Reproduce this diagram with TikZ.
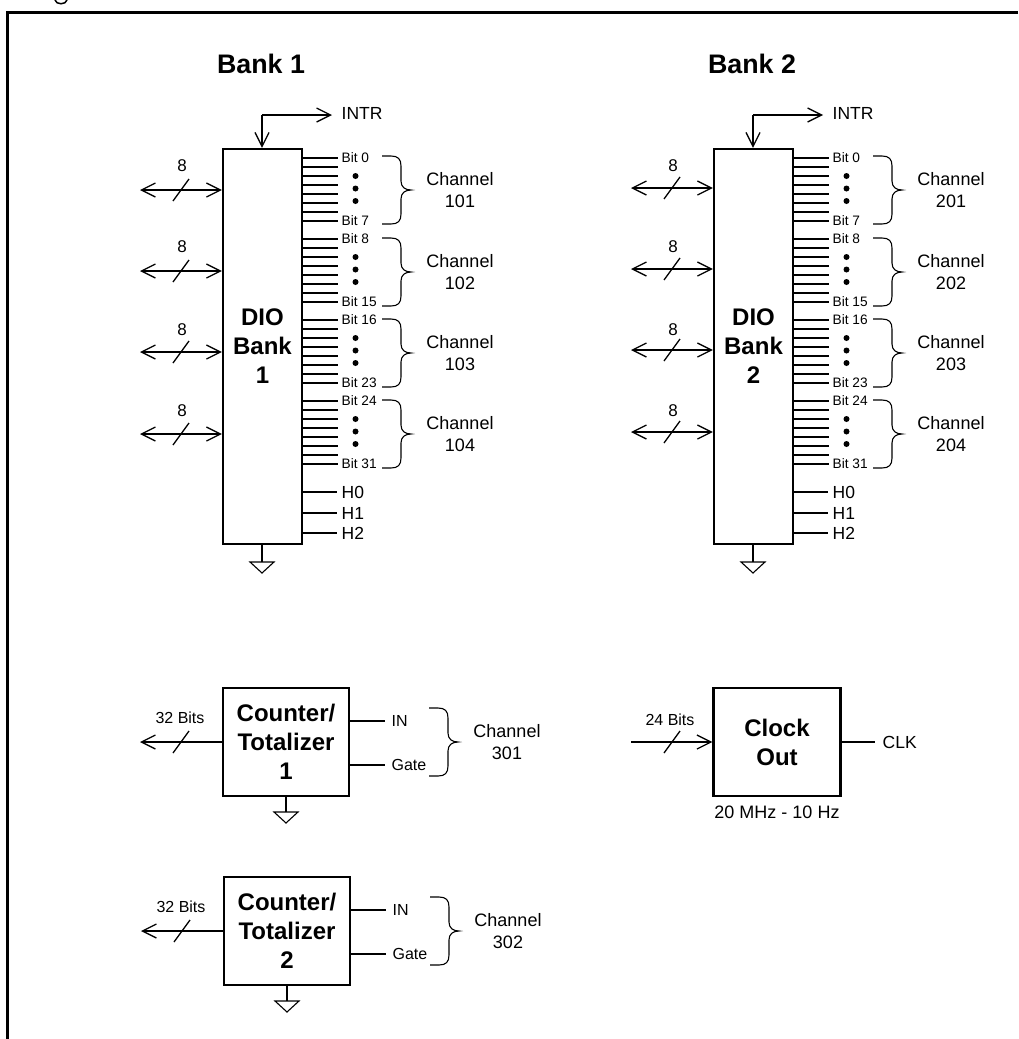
\documentclass[tikz,border=0pt]{standalone}
\usepackage{fontspec}
\setmainfont{Liberation Sans}
\usetikzlibrary{arrows.meta}
\newcommand{\fsz}[2]{\fontsize{#1}{#2}\selectfont}

\begin{document}
\begin{tikzpicture}[x=1pt, y=-1pt, line width=1.3pt, >={Straight Barb[length=14pt,width=14pt,line width=1.3pt]}]
      \tikzset{
        block/.style={draw, line width=2.2pt, inner sep=0pt, align=center, font=\fsz{24}{29}\bfseries},
        title/.style={font=\fsz{26.8}{30}\bfseries},
        bitlabel/.style={anchor=west, inner sep=0pt, font=\fsz{13.7}{15}},
        siglabel/.style={anchor=west, inner sep=0pt, font=\fsz{17.5}{20}},
        gatelabel/.style={anchor=west, inner sep=0pt, font=\fsz{16}{18}},
        buslabel/.style={inner sep=0pt, font=\fsz{16}{18}},
        chlabel/.style={inner sep=0pt, align=center, font=\fsz{18}{21.5}},
        dot/.style={circle, fill=black, inner sep=0pt, minimum size=6pt},
        busslash/.pic={\draw (-8,11) -- (8,-11);},
        gndsym/.pic={\draw[line width=1.1pt] (-12,0) -- (12,0) -- (0,11) -- cycle;},
        chbrace/.pic={\draw[line width=1.1pt] (-29,-34) -- (-20,-34) .. controls (-13,-34) and (-10,-31) .. (-10,-24)
          -- (-10,-9) .. controls (-10,-3) and (-6,0) .. (0,0) .. controls (-6,0) and (-10,3) .. (-10,9)
          -- (-10,24) .. controls (-10,31) and (-13,34) .. (-20,34) -- (-29,34);}
      }
      \useasboundingbox (0,0) rectangle (1018,1039);

      % Outer frame, running off the page
      \draw[line width=3pt] (1018,12.5) -- (7.5,12.5) -- (7.5,1039);
      \draw[line width=1.5pt] (55,0) .. controls (56,5) and (66,5) .. (67,0);

      % The two DIO banks
      \foreach \bank/\dx/\dy in {1/0/0, 2/491/-2} {
        \begin{scope}[xshift=\dx pt]
          \node[title] (title\bank) at (261,64) {Bank \bank};
          \node[block, minimum width=79pt, minimum height=395pt] (dio\bank) at (262.5,346.5) {DIO\\Bank\\\bank};

          % Interrupt output
          \coordinate (intrtop\bank) at (262,115);
          \node[siglabel] (intr\bank) at (341,113) {INTR};
          \coordinate (intrend\bank) at (332,115);
          \draw[->, line width=1.6pt] (intrtop\bank) -- (intrtop\bank |- dio\bank.north);
          \draw[->, line width=1.6pt] (intrtop\bank) -- (intrend\bank);

          % Byte wide buses on the left, bit lines and braces on the right
          \foreach \ch/\ay/\ly/\ytop/\first/\last/\cy in {1/190/166/158/0/7/190, 2/271/247/239/8/15/272, 3/352/330/320/16/23/353, 4/434/411/401/24/31/434} {
            \coordinate (busend\bank\ch) at (140,\ay+\dy);
            \coordinate (busmid\bank\ch) at (181,\ay+\dy);
            \draw[<->] (busend\bank\ch) -- (dio\bank.west |- busend\bank\ch);
            \pic at (busmid\bank\ch) {busslash};
            \node[buslabel, font=\fsz{17}{19}] (width\bank\ch) at (182,\ly) {8};

            \foreach \k in {0,...,7} {
              \coordinate (bit\bank\ch\k) at (338,\ytop+9*\k);
              \draw (dio\bank.east |- bit\bank\ch\k) -- (bit\bank\ch\k);
            }
            \node[bitlabel] (first\bank\ch) at (341,\ytop) {Bit \first};
            \node[bitlabel] (last\bank\ch) at (341,\ytop+63) {Bit \last};
            \node[dot] (dota\bank\ch) at (355.5,\ytop+18) {};
            \node[dot] (dotb\bank\ch) at (355.5,\ytop+30.5) {};
            \node[dot] (dotc\bank\ch) at (355.5,\ytop+43) {};
            \pic at (411,\cy) {chbrace};
            \node[chlabel] (chan\bank\ch) at (460,\cy) {Channel\\{\bank}0\ch};
          }

          % Handshake lines
          \foreach \h/\hy in {0/492, 1/513, 2/533} {
            \node[siglabel] (hs\bank\h) at (341,\hy) {H\h};
            \coordinate (hsend\bank\h) at (337,\hy);
            \draw (dio\bank.east |- hsend\bank\h) -- (hsend\bank\h);
          }

          % Ground
          \coordinate (gnd\bank) at (262,562);
          \draw (dio\bank.south -| gnd\bank) -- (gnd\bank);
          \pic at (gnd\bank) {gndsym};
        \end{scope}
      }

      % Counter/Totalizer blocks
      \foreach \cnt/\dx/\dy in {1/0/0, 2/1/189} {
        \begin{scope}[xshift=\dx pt, yshift=-\dy pt]
          \node[block, minimum width=126.5pt, minimum height=108pt] (cnt\cnt) at (286,742) {Counter/\\Totalizer\\\cnt};
          \coordinate (outend\cnt) at (140,742);
          \draw[->] (cnt\cnt.west) -- (outend\cnt);
          \pic at (181,742) {busslash};
          \node[buslabel] (bits\cnt) at (180,718) {32 Bits};

          \node[gatelabel] (in\cnt) at (391,721) {IN};
          \node[gatelabel] (gate\cnt) at (391,765) {Gate};
          \coordinate (inend\cnt) at (385,721);
          \coordinate (gateend\cnt) at (385,765);
          \draw (cnt\cnt.east |- inend\cnt) -- (inend\cnt);
          \draw (cnt\cnt.east |- gateend\cnt) -- (gateend\cnt);
          \pic at (458,742) {chbrace};
          \node[chlabel] (chan30\cnt) at (507,742) {Channel\\30\cnt};

          \coordinate (cgnd\cnt) at (286,812);
          \draw (cnt\cnt.south) -- (cgnd\cnt);
          \pic at (cgnd\cnt) {gndsym};
        \end{scope}
      }

      % Clock output block
      \node[block, minimum width=127pt, minimum height=108pt] (clock) at (777,742) {Clock\\Out};
      \coordinate (clkin) at (631,742);
      \draw[->] (clkin) -- (clock.west);
      \pic at (672,742) {busslash};
      \node[buslabel] (clkbits) at (670,720) {24 Bits};
      \node[siglabel] (clk) at (882,742) {CLK};
      \coordinate (clkend) at (875,742);
      \draw (clock.east) -- (clkend);
      \node[inner sep=0pt, font=\fsz{18}{20}] (freq) at (777,812) {20 MHz - 10 Hz};
    \end{tikzpicture}
\end{document}
